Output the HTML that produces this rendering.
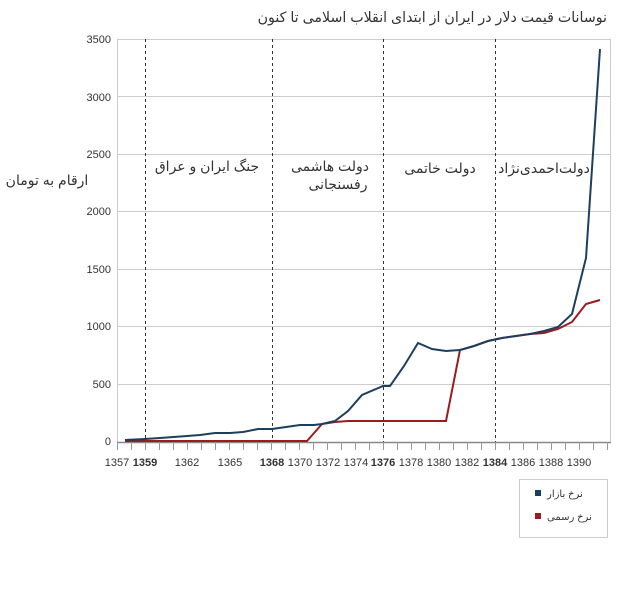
<!DOCTYPE html>
<html><head><meta charset="utf-8"><style>
body{margin:0;background:#fff;width:624px;height:592px;overflow:hidden}
</style></head><body>
<svg width="624" height="592" xmlns="http://www.w3.org/2000/svg" font-family="'Liberation Sans','DejaVu Sans',sans-serif">
<text x="607" y="22" text-anchor="end" font-size="14.2" fill="#333">نوسانات قیمت دلار در ایران از ابتدای انقلاب اسلامی تا کنون</text>
<g stroke="#ccc" stroke-width="1">
<line x1="117" y1="39.5" x2="611" y2="39.5"/>
<line x1="117" y1="96.5" x2="611" y2="96.5"/>
<line x1="117" y1="154.5" x2="611" y2="154.5"/>
<line x1="117" y1="211.5" x2="611" y2="211.5"/>
<line x1="117" y1="269.5" x2="611" y2="269.5"/>
<line x1="117" y1="326.5" x2="611" y2="326.5"/>
<line x1="117" y1="384.5" x2="611" y2="384.5"/>
<line x1="117.5" y1="39" x2="117.5" y2="442"/>
<line x1="610.5" y1="39" x2="610.5" y2="442"/>
</g>
<g font-size="11" fill="#333" text-anchor="end">
<text x="111" y="43">3500</text><text x="111" y="101">3000</text><text x="111" y="158">2500</text>
<text x="111" y="215">2000</text><text x="111" y="273">1500</text><text x="111" y="330">1000</text>
<text x="111" y="388">500</text><text x="111" y="445">0</text>
</g>
<g stroke="#333" stroke-dasharray="3,3" stroke-width="1">
<line x1="145.5" y1="39" x2="145.5" y2="442"/><line x1="272.5" y1="39" x2="272.5" y2="442"/>
<line x1="383.5" y1="39" x2="383.5" y2="442"/><line x1="495.5" y1="39" x2="495.5" y2="442"/>
</g>
<line x1="117" y1="442.5" x2="611" y2="442.5" stroke="#888" stroke-width="1.5"/>
<g stroke="#999" stroke-width="1" id="ticks"></g>
<g font-size="11" fill="#333" text-anchor="middle">
<text x="117" y="466">1357</text><text x="145" y="466" font-weight="bold">1359</text><text x="187" y="466">1362</text>
<text x="230" y="466">1365</text><text x="272" y="466" font-weight="bold">1368</text><text x="300" y="466">1370</text>
<text x="328" y="466">1372</text><text x="356" y="466">1374</text><text x="383" y="466" font-weight="bold">1376</text>
<text x="411" y="466">1378</text><text x="439" y="466">1380</text><text x="467" y="466">1382</text>
<text x="495" y="466" font-weight="bold">1384</text><text x="523" y="466">1386</text><text x="551" y="466">1388</text><text x="579" y="466">1390</text>
</g>
<g font-size="14" fill="#333" text-anchor="middle">
<text x="47" y="185">ارقام به تومان</text>
<text x="207" y="171">جنگ ایران و عراق</text>
<text x="330" y="171">دولت هاشمی</text>
<text x="338" y="189">رفسنجانی</text>
<text x="440" y="173">دولت خاتمی</text>
<text x="544" y="173">دولت‌احمدی‌نژاد</text>
</g>
<polyline fill="none" stroke="#9b1b1f" stroke-width="2" points="125,441 300,441 307,441 322,424 335,422 348,421 446,421 460,350 474,346 488,341 502,338 516,336 530,334 544,333 558,329 572,322 586,304 600,300"/>
<polyline fill="none" stroke="#1d3f5e" stroke-width="2" points="125,440 145,439 160,438 187,436 200,435 215,433 230,433 243,432 258,429 272,429 286,427 300,425 314,425 322,424 335,421 348,411 362,395 383,386 390,386 404,366 418,343 432,349 446,351 460,350 474,346 488,341 502,338 516,336 530,334 544,331 558,327 572,314 586,258 600,49"/>
<rect x="519.5" y="479.5" width="88" height="58" fill="#fff" stroke="#ccc"/>
<rect x="535" y="490" width="6" height="6" fill="#1d3f5e"/>
<rect x="535" y="513" width="6" height="6" fill="#9b1b1f"/>
<g font-size="10" fill="#333" text-anchor="start">
<text x="547" y="497">نرخ بازار</text><text x="547" y="520">نرخ رسمی</text>
</g>
</svg>
<script>
var g=document.getElementById('ticks');var s='';
for(var y=1357;y<=1392;y++){var x=145+14*(y-1359)+0.5;if(x>611)break;s+='<line x1="'+x+'" y1="442" x2="'+x+'" y2="450"/>';}
g.innerHTML=s;
</script>
</body></html>
